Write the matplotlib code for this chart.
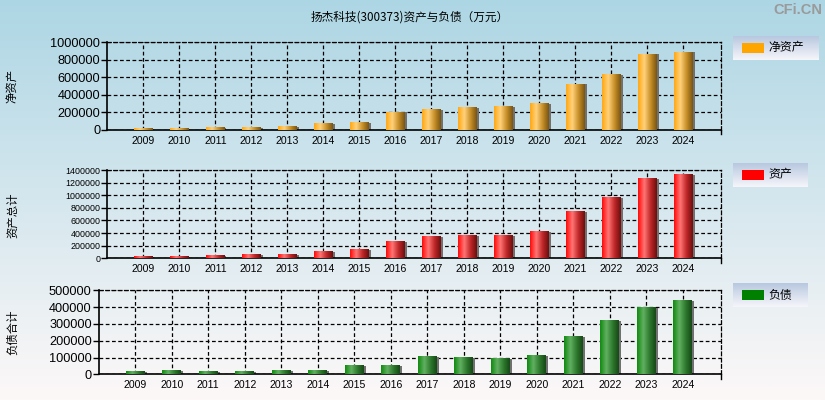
import numpy as np
import matplotlib
matplotlib.use("Agg")
import matplotlib.pyplot as plt
from matplotlib.colors import LinearSegmentedColormap
from matplotlib.patches import Rectangle

plt.rcParams['font.family'] = ['Liberation Sans', 'Noto Sans CJK SC', 'DejaVu Sans']

years = ['2009', '2010', '2011', '2012', '2013', '2014', '2015', '2016',
         '2017', '2018', '2019', '2020', '2021', '2022', '2023', '2024']
equity = [12000, 12000, 26000, 26000, 35000, 70000, 82000, 200000,
          230000, 252000, 263000, 298000, 524000, 630000, 866000, 889000]
assets = [21000, 21000, 37000, 53000, 53000, 100000, 132000, 259000,
          338000, 354000, 354000, 417000, 734000, 956000, 1257000, 1321000]
liabilities = [14000, 20000, 14000, 14000, 20000, 20000, 52000, 52000,
               103000, 99000, 91000, 109000, 222000, 317000, 395000, 437000]

title = '扬杰科技(300373)资产与负债（万元）'
ylabels = ['净资产', '资产总计', '负债合计']
legend_names = ['净资产', '资产', '负债']
legend_colors = ['#FFA500', '#FF0000', '#008000']
grad_colors = [
    ['#FFA812', '#FFD27C', '#C8902A', '#7A5510'],
    ['#FF0A0A', '#FF7575', '#C02828', '#6E0E0E'],
    ['#108A10', '#62B062', '#2E7A2E', '#164816'],
]
ylims = [1000000, 1400000, 500000]
ysteps = [200000, 200000, 100000]
ytick_fs = [9.2, 6.4, 9.2]

W, H = 825, 400
fig = plt.figure(figsize=(W / 100, H / 100), dpi=100)

# background gradient
bg = fig.add_axes([0, 0, 1, 1], zorder=-10)
top_c = np.array([173, 214, 228]) / 255
bot_c = np.array([253, 248, 248]) / 255
t = np.linspace(0, 1, 256)[:, None]
grad = top_c[None, None, :] * (1 - t[:, :, None]) + bot_c[None, None, :] * t[:, :, None]
bg.imshow(grad, aspect='auto', extent=[0, 1, 0, 1])
bg.set_axis_off()

def px(x0, y0, x1, y1):
    return [x0 / W, 1 - y1 / H, (x1 - x0) / W, (y1 - y0) / H]

boxes = [px(107.3, 42.3, 721.3, 130), px(107.3, 170, 721.3, 258.3), px(98.7, 290.3, 721.3, 374.3)]
series = [equity, assets, liabilities]
ylabel_y = [86, 215, 332]
legend_boxes = [(733, 36, 819, 60), (733, 163, 808, 187), (733, 283, 808, 307)]

x = np.arange(len(years))
bw = 0.52
for i in range(3):
    ax = fig.add_axes(boxes[i])
    ax.patch.set_alpha(0)
    cmap = LinearSegmentedColormap.from_list('g%d' % i, grad_colors[i])
    gimg = np.linspace(0, 1, 64)[None, :]
    for xi, v in zip(x, series[i]):
        # shadow
        ax.add_patch(Rectangle((xi - bw / 2 + 0.05, 0), bw, v, color='#707070', zorder=2, lw=0))
        ax.imshow(gimg, cmap=cmap, aspect='auto', extent=[xi - bw / 2, xi + bw / 2, 0, v],
                  zorder=3, interpolation='bilinear')
    ax.set_xlim(-1, 16.05)
    ax.set_ylim(0, ylims[i])
    ax.set_xticks(x)
    ax.set_xticklabels(years, fontsize=7.6)
    ax.set_yticks(np.arange(0, ylims[i] + 1, ysteps[i]))
    ax.set_yticklabels([str(v) for v in np.arange(0, ylims[i] + 1, ysteps[i])], fontsize=ytick_fs[i])
    ax.tick_params(axis='x', length=0, pad=4)
    ax.tick_params(axis='y', length=4, width=1, pad=1)
    ax.grid(True, color='black', linestyle=(0, (3, 2)), linewidth=0.9, zorder=1)
    ax.set_axisbelow(True)
    for s in ['top', 'right']:
        ax.spines[s].set_linestyle((0, (3, 2)))
        ax.spines[s].set_linewidth(0.9)
    for s in ['left', 'bottom']:
        ax.spines[s].set_linewidth(1.2)
    # right end tick
    ax.plot([16.05, 16.05], [0, -ylims[i] * 0.05], color='black', lw=1, clip_on=False)
    fig.text(13 / W, 1 - ylabel_y[i] / H, ylabels[i], rotation=90, ha='center', va='center',
             fontsize=8.2, family=['Noto Sans CJK SC', 'DejaVu Sans'])
    # legend
    lx0, ly0, lx1, ly1 = legend_boxes[i]
    lax = fig.add_axes(px(lx0, ly0, lx1, ly1))
    lg = np.linspace(0, 1, 64)[:, None]
    lcm = LinearSegmentedColormap.from_list('l', ['#B8C8E0', '#F6F6FA'])
    lax.imshow(lg, cmap=lcm, aspect='auto', extent=[0, 1, 0, 1])
    lax.set_xlim(0, 1)
    lax.set_ylim(0, 1)
    lax.set_axis_off()
    pw = lx1 - lx0
    lax.add_patch(Rectangle((9 / pw, 0.31), 22 / pw, 0.38, color=legend_colors[i], lw=0))
    lax.text(35 / pw, 0.5, legend_names[i], ha='left', va='center', fontsize=8.6,
             family=['Noto Sans CJK SC', 'DejaVu Sans'])

fig.text(410 / W, 1 - 17 / H, title, ha='center', va='center', fontsize=8.4,
         family=['Noto Sans CJK SC', 'DejaVu Sans'])
fig.text(822 / W, 1 - 10 / H, 'CFi.CN', ha='right', va='center', fontsize=10.5,
         fontweight='bold', color='#9A9A9A')

fig.savefig('out.png', dpi=100)
